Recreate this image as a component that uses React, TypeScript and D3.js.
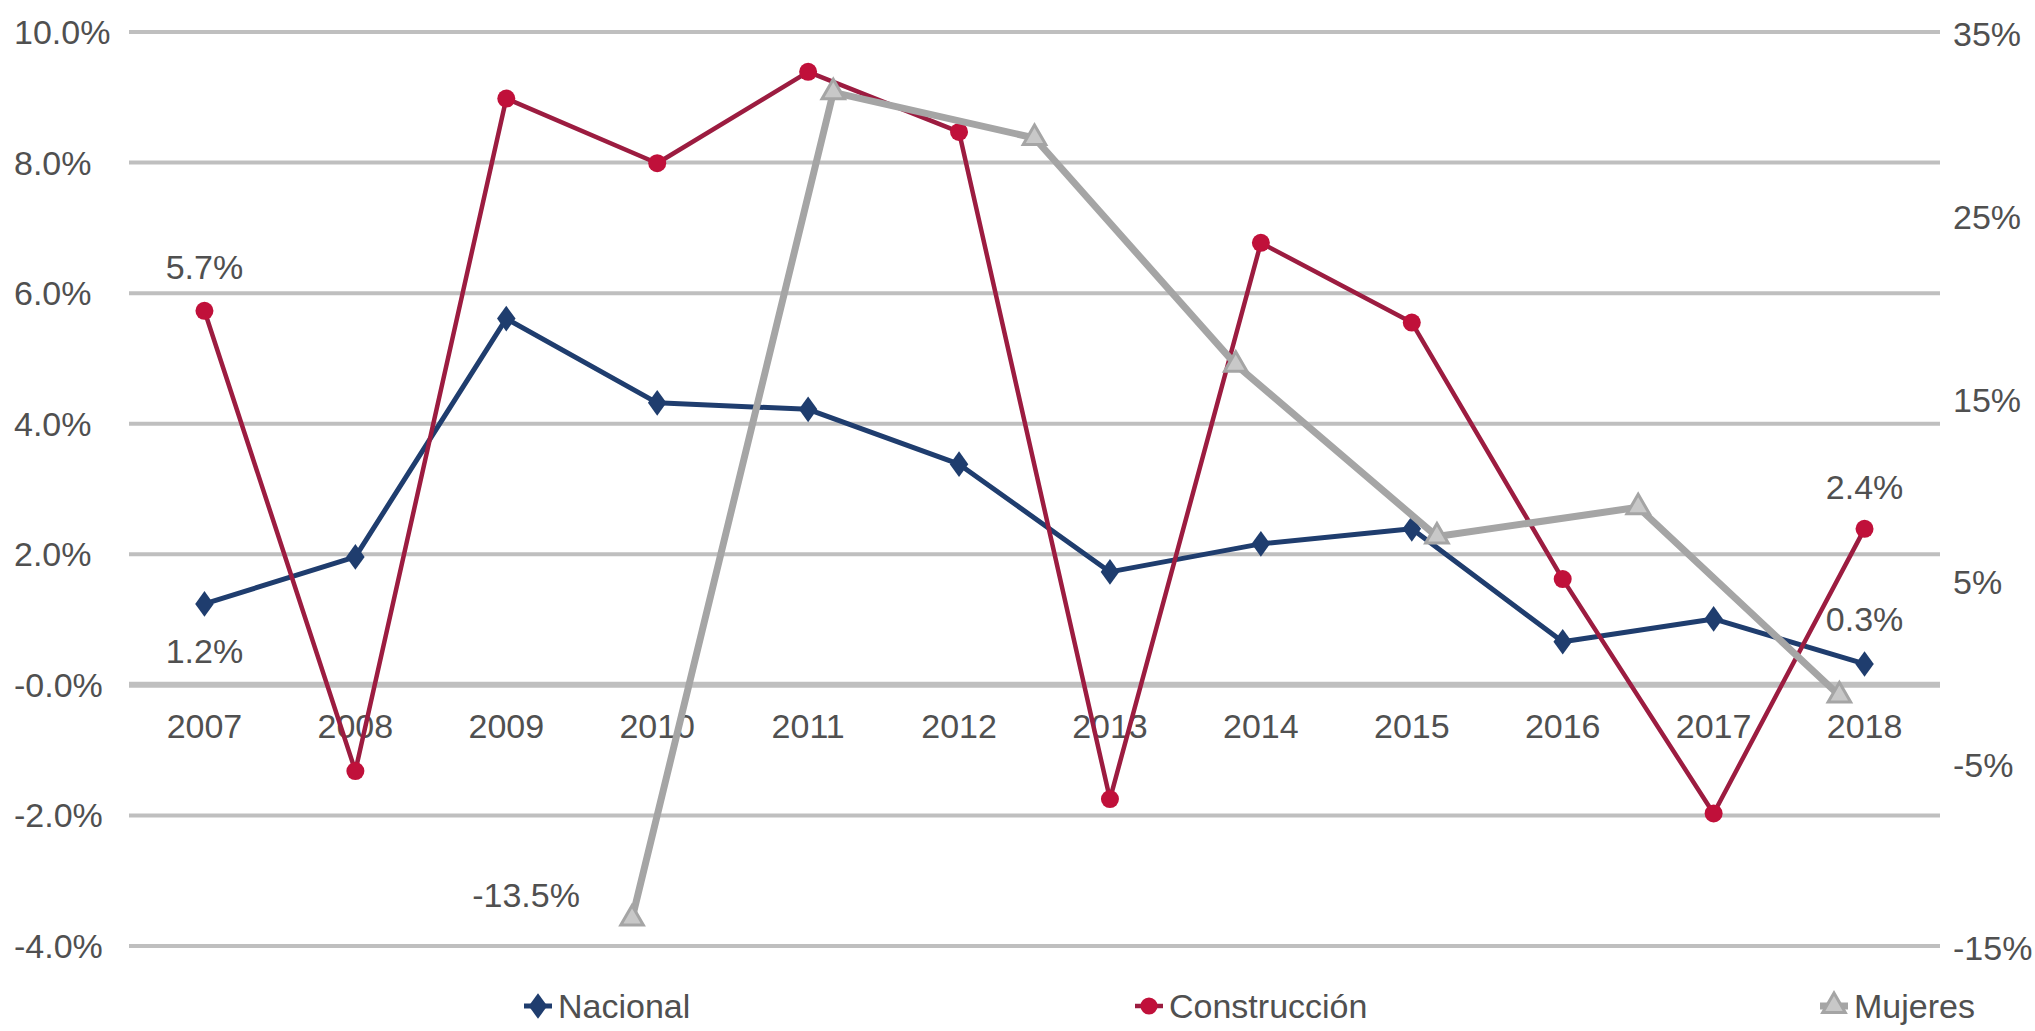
import { useEffect, useRef } from "react";
import * as d3 from "d3";

const years = ["2007", "2008", "2009", "2010", "2011", "2012", "2013", "2014", "2015", "2016", "2017", "2018"];
const nacional = [1.24, 1.96, 5.61, 4.32, 4.22, 3.38, 1.73, 2.16, 2.39, 0.66, 1.01, 0.32];
const construccion = [5.73, -1.32, 8.98, 7.99, 9.39, 8.47, -1.75, 6.77, 5.55, 1.62, -1.97, 2.39];

// Mujeres sits on a secondary (hidden) category axis with 9 slots, right value axis
const mujeresSlots = ["s1", "s2", "s3", "s4", "s5", "s6", "s7", "s8", "s9"];
const mujeres: (number | null)[] = [null, null, -13.5, 31.7, 29.2, 16.8, 7.4, 9.0, -1.3];

const leftTicks = [-4, -2, 0, 2, 4, 6, 8, 10];
const leftTickLabels = ["-4.0%", "-2.0%", "-0.0%", "2.0%", "4.0%", "6.0%", "8.0%", "10.0%"];
const rightTicks = [-15, -5, 5, 15, 25, 35];
const rightTickLabels = ["-15%", "-5%", "5%", "15%", "25%", "35%"];

const legendNames = ["Nacional", "Construcción", "Mujeres"];

const WIDTH = 2035;
const HEIGHT = 1031;
const FONT = "'Liberation Sans', Arial, sans-serif";
const FS = "34px";
const TEXT = "#505050";
const BLUE = "#1F3D6E";
const RED_LINE = "#9C1C40";
const RED_DOT = "#C0103A";
const GREY = "#A5A5A5";
const GRID = "#BFBFBF";

export default function App() {
  const svgRef = useRef<SVGSVGElement>(null);

  useEffect(() => {
    if (!svgRef.current) return;
    const svg = d3.select(svgRef.current);
    svg.selectAll("*").remove();

    const plot = { left: 129, right: 1940, top: 32, bottom: 946 };

    const x = d3.scaleBand().domain(years).range([plot.left, plot.right]);
    const x2 = d3.scaleBand().domain(mujeresSlots).range([plot.left, plot.right]);
    const yL = d3.scaleLinear().domain([-4, 10]).range([plot.bottom, plot.top]);
    const yR = d3.scaleLinear().domain([-15, 35]).range([plot.bottom, plot.top]);
    const cx = (d: string) => (x(d) || 0) + x.bandwidth() / 2;
    const cx2 = (d: string) => (x2(d) || 0) + x2.bandwidth() / 2;
    const fmt = (v: number) => `${v.toFixed(1)}%`;

    // gridlines
    svg
      .append("g")
      .selectAll("line")
      .data(leftTicks)
      .enter()
      .append("line")
      .attr("x1", plot.left)
      .attr("x2", plot.right)
      .attr("y1", (d) => yL(d))
      .attr("y2", (d) => yL(d))
      .attr("stroke", GRID)
      .attr("stroke-width", (d) => (d === 0 ? 6 : 4));

    // left axis labels
    svg
      .append("g")
      .selectAll("text")
      .data(leftTicks)
      .enter()
      .append("text")
      .attr("x", 14)
      .attr("y", (d) => yL(d))
      .attr("dominant-baseline", "central")
      .style("font-family", FONT)
      .style("font-size", FS)
      .style("fill", TEXT)
      .text((_d, i) => leftTickLabels[i]);

    // right axis labels
    svg
      .append("g")
      .selectAll("text")
      .data(rightTicks)
      .enter()
      .append("text")
      .attr("x", 1953)
      .attr("y", (d) => yR(d) + 2)
      .attr("dominant-baseline", "central")
      .style("font-family", FONT)
      .style("font-size", FS)
      .style("fill", TEXT)
      .text((_d, i) => rightTickLabels[i]);

    // category labels
    svg
      .append("g")
      .selectAll("text")
      .data(years)
      .enter()
      .append("text")
      .attr("x", (d) => cx(d))
      .attr("y", 726)
      .attr("text-anchor", "middle")
      .attr("dominant-baseline", "central")
      .style("font-family", FONT)
      .style("font-size", FS)
      .style("fill", TEXT)
      .text((d) => d);

    const line = d3
      .line<number>()
      .x((_d, i) => cx(years[i]))
      .y((d) => yL(d));

    // Nacional
    svg
      .append("path")
      .datum(nacional)
      .attr("d", line)
      .attr("fill", "none")
      .attr("stroke", BLUE)
      .attr("stroke-width", 5)
      .attr("stroke-linejoin", "round");
    const diamond = d3.symbol().type(d3.symbolDiamond).size(190);
    svg
      .append("g")
      .selectAll("path")
      .data(nacional)
      .enter()
      .append("path")
      .attr("d", diamond)
      .attr("transform", (d, i) => `translate(${cx(years[i])},${yL(d)}) scale(1.25,1)`)
      .attr("fill", BLUE);

    // Construcción
    svg
      .append("path")
      .datum(construccion)
      .attr("d", line)
      .attr("fill", "none")
      .attr("stroke", RED_LINE)
      .attr("stroke-width", 4.5)
      .attr("stroke-linejoin", "round");
    svg
      .append("g")
      .selectAll("circle")
      .data(construccion)
      .enter()
      .append("circle")
      .attr("cx", (_d, i) => cx(years[i]))
      .attr("cy", (d) => yL(d))
      .attr("r", 9)
      .attr("fill", RED_DOT);

    // Mujeres (secondary axes)
    const mPts = mujeres
      .map((v, i) => ({ v, slot: mujeresSlots[i] }))
      .filter((p) => p.v !== null) as { v: number; slot: string }[];
    const line2 = d3
      .line<{ v: number; slot: string }>()
      .x((d) => cx2(d.slot))
      .y((d) => yR(d.v));
    svg
      .append("path")
      .datum(mPts)
      .attr("d", line2)
      .attr("fill", "none")
      .attr("stroke", GREY)
      .attr("stroke-width", 7)
      .attr("stroke-linejoin", "round");
    const tri = d3.symbol().type(d3.symbolTriangle).size(220);
    svg
      .append("g")
      .selectAll("path")
      .data(mPts)
      .enter()
      .append("path")
      .attr("d", tri)
      .attr("transform", (d) => `translate(${cx2(d.slot)},${yR(d.v)})`)
      .attr("fill", "#C8C8C8")
      .attr("stroke", GREY)
      .attr("stroke-width", 3);

    // data labels
    const last = years.length - 1;
    const mFirst = mPts[0];
    const labels = [
      { x: cx(years[0]), y: yL(construccion[0]) - 44, t: fmt(construccion[0]) },
      { x: cx(years[0]), y: yL(nacional[0]) + 47, t: fmt(nacional[0]) },
      { x: cx(years[last]), y: yL(construccion[last]) - 42, t: fmt(construccion[last]) },
      { x: cx(years[last]), y: yL(nacional[last]) - 45, t: fmt(nacional[last]) },
      { x: cx2(mFirst.slot) - 106, y: yR(mFirst.v) - 24, t: fmt(mFirst.v) },
    ];
    svg
      .append("g")
      .selectAll("text")
      .data(labels)
      .enter()
      .append("text")
      .attr("x", (d) => d.x)
      .attr("y", (d) => d.y)
      .attr("text-anchor", "middle")
      .attr("dominant-baseline", "central")
      .style("font-family", FONT)
      .style("font-size", FS)
      .style("fill", TEXT)
      .text((d) => d.t);

    // legend
    const legendX = [538, 1149, 1834];
    const legendY = 1006;
    const lg = svg
      .append("g")
      .selectAll("g")
      .data(legendNames)
      .enter()
      .append("g")
      .attr("transform", (_d, i) => `translate(${legendX[i]},${legendY})`);
    lg.append("line")
      .attr("x1", -14)
      .attr("x2", 14)
      .attr("stroke", (_d, i) => [BLUE, RED_LINE, GREY][i])
      .attr("stroke-width", (_d, i) => [5, 4.5, 7][i]);
    lg.append("path")
      .attr("d", (_d, i) =>
        i === 0 ? diamond() : i === 1 ? d3.symbol().type(d3.symbolCircle).size(230)() : tri()
      )
      .attr("transform", (_d, i) => (i === 0 ? "scale(1.25,1)" : ""))
      .attr("fill", (_d, i) => [BLUE, RED_DOT, "#C8C8C8"][i])
      .attr("stroke", (_d, i) => (i === 2 ? GREY : "none"))
      .attr("stroke-width", 3);
    lg.append("text")
      .attr("x", 20)
      .attr("y", 0)
      .attr("dominant-baseline", "central")
      .style("font-family", FONT)
      .style("font-size", FS)
      .style("fill", TEXT)
      .text((d) => d);
  }, []);

  return (
    <svg
      ref={svgRef}
      width={WIDTH}
      height={HEIGHT}
      viewBox={`0 0 ${WIDTH} ${HEIGHT}`}
      style={{ position: "absolute", left: 0, top: 0, background: "#fff" }}
    />
  );
}
